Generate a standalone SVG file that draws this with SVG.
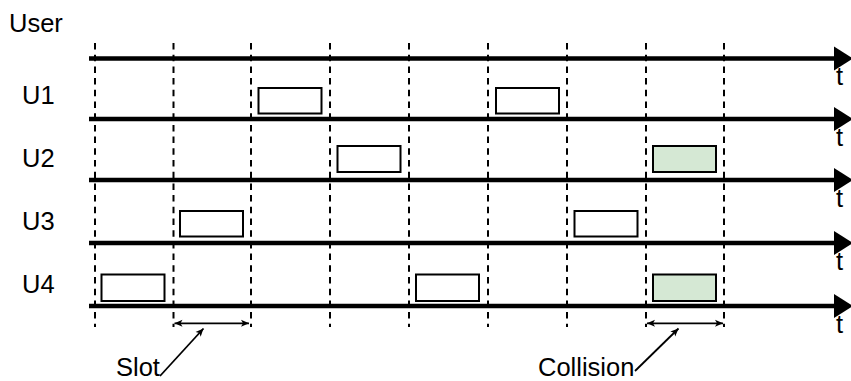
<svg xmlns="http://www.w3.org/2000/svg" width="851" height="381" viewBox="0 0 851 381">
<style>
.lbl{font-family:"Liberation Sans",Arial,sans-serif;font-size:25.5px;fill:#000}
.grid{stroke:#000;stroke-width:2;stroke-dasharray:6.5 5.2;fill:none}
.axis{stroke:#000;stroke-width:4.5;fill:none}
.box{fill:#fff;stroke:#000;stroke-width:2}
.col{fill:#d5e8d4;stroke:#000;stroke-width:2}
.dim{stroke:#000;stroke-width:1.8;fill:none}
</style>
<defs>
<marker id="ah" markerWidth="10" markerHeight="10" refX="8" refY="5" orient="auto-start-reverse" markerUnits="userSpaceOnUse">
<path d="M0,1.5 L8,5 L0,8.5 L2,5 Z" fill="#000"/>
</marker>
</defs>
<g id="gridlines">
<line class="grid" x1="95" y1="43" x2="95" y2="327"/>
<line class="grid" x1="173.5" y1="43" x2="173.5" y2="327"/>
<line class="grid" x1="251" y1="43" x2="251" y2="327"/>
<line class="grid" x1="330" y1="43" x2="330" y2="327"/>
<line class="grid" x1="409" y1="43" x2="409" y2="327"/>
<line class="grid" x1="488" y1="43" x2="488" y2="327"/>
<line class="grid" x1="567" y1="43" x2="567" y2="327"/>
<line class="grid" x1="646" y1="43" x2="646" y2="327"/>
<line class="grid" x1="724" y1="43" x2="724" y2="327"/>
</g>
<g id="labels">
<text class="lbl" x="9" y="31.7">User</text>
<text class="lbl" x="22" y="104">U1</text>
<text class="lbl" x="22" y="166.7">U2</text>
<text class="lbl" x="22" y="230">U3</text>
<text class="lbl" x="22" y="293.3">U4</text>
</g>
<g id="axes">
<line class="axis" x1="89" y1="58.5" x2="836" y2="58.5"/>
<path d="M834,46.5 L853,58.5 L834,70.5 Z"/>
<text class="lbl" x="836" y="85">t</text>
<line class="axis" x1="89" y1="119" x2="836" y2="119"/>
<path d="M834,107 L853,119 L834,131 Z"/>
<text class="lbl" x="836" y="145.5">t</text>
<line class="axis" x1="89" y1="180" x2="836" y2="180"/>
<path d="M834,168 L853,180 L834,192 Z"/>
<text class="lbl" x="836" y="206.5">t</text>
<line class="axis" x1="89" y1="243" x2="836" y2="243"/>
<path d="M834,231 L853,243 L834,255 Z"/>
<text class="lbl" x="836" y="269.5">t</text>
<line class="axis" x1="89" y1="306" x2="836" y2="306"/>
<path d="M834,294 L853,306 L834,318 Z"/>
<text class="lbl" x="836" y="332.5">t</text>
</g>
<g id="U1">
<rect class="box" x="258.5" y="88" width="63" height="25.5"/>
<rect class="box" x="496" y="88" width="63" height="25.5"/>
</g>
<g id="U2">
<rect class="box" x="337.5" y="146" width="63" height="26"/>
<rect class="col" x="653" y="146" width="63" height="26"/>
</g>
<g id="U3">
<rect class="box" x="180" y="211" width="63" height="25.5"/>
<rect class="box" x="574.5" y="211" width="63" height="25.5"/>
</g>
<g id="U4">
<rect class="box" x="101.5" y="274.5" width="63" height="26.5"/>
<rect class="box" x="416" y="274.5" width="63" height="26.5"/>
<rect class="col" x="653" y="274.5" width="63" height="26.5"/>
</g>
<g id="connectors">
<line class="dim" x1="174.5" y1="323.3" x2="249" y2="323.3" marker-start="url(#ah)" marker-end="url(#ah)"/>
<line class="dim" x1="647" y1="323.3" x2="723" y2="323.3" marker-start="url(#ah)" marker-end="url(#ah)"/>
<line class="dim" x1="160" y1="376" x2="203.5" y2="328.5" marker-end="url(#ah)"/>
<line class="dim" x1="635" y1="371" x2="678.5" y2="328.5" marker-end="url(#ah)"/>
</g>
<g id="annotations">
<text class="lbl" x="116" y="375.5">Slot</text>
<text class="lbl" x="538" y="375.5">Collision</text>
</g>
</svg>
